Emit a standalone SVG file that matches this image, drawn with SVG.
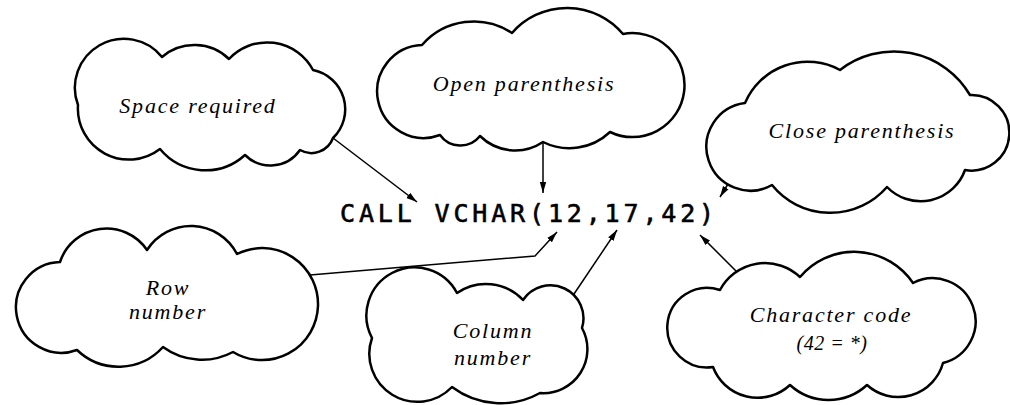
<svg xmlns="http://www.w3.org/2000/svg" width="1010" height="405" viewBox="0 0 1010 405">
<defs>
<style>
.cloud{fill:#fff;stroke:#000;stroke-width:2.5;stroke-linejoin:round}
.lbl{font-family:"Liberation Serif",serif;font-style:italic;font-size:22px;letter-spacing:1.8px;fill:#000;text-anchor:middle}
.sm{font-size:20px;letter-spacing:0.5px}
.code{font-family:"DejaVu Sans Mono",monospace;font-size:25px;letter-spacing:3.85px;fill:#000;stroke:#000;stroke-width:0.6}
.conn{fill:none;stroke:#000;stroke-width:1.5}
</style>
<marker id="ah" markerUnits="userSpaceOnUse" markerWidth="12" markerHeight="8" refX="11" refY="4" orient="auto">
<path d="M0,0.8 L11,4 L0,7.2 Z" fill="#000"/>
</marker>
</defs>
<rect width="1010" height="405" fill="#fff"/>
<g id="space-required">
<path class="cloud" d="M78,105 A49,49 0 0 1 162,57 A50,50 0 0 1 229,59 A52,52 0 0 1 313,70 A40,40 0 0 1 333,138 A23,23 0 0 1 300,150 A36,36 0 0 1 245,155 A59,59 0 0 1 160,149 A51,51 0 0 1 78,105 Z"/>
<text class="lbl" x="198" y="113">Space required</text>
</g>
<g id="open-parenthesis">
<path class="cloud" d="M422,45 A69,69 0 0 1 512,33 A73,73 0 0 1 623,34 A52,52 0 1 1 610,132 A59,59 0 0 1 543,142 A50,50 0 0 1 480,136 A25,25 0 0 1 440,135 A46.5,46.5 0 1 1 422,45 Z"/>
<text class="lbl" x="524" y="91">Open parenthesis</text>
</g>
<g id="close-parenthesis">
<path class="cloud" d="M745,103 A68,68 0 0 1 840,70 A88,88 0 0 1 970,95 A37.8,37.8 0 1 1 965,170 A47,47 0 0 1 887,187 A75,75 0 0 1 772,185 A44,44 0 1 1 745,103 Z"/>
<text class="lbl" x="862" y="138">Close parenthesis</text>
</g>
<g id="code">
<text class="code" x="340" y="222">CALL VCHAR(12,17,42)</text>
</g>
<g id="row-number">
<path class="cloud" d="M60,262 A49,49 0 0 1 147,250 A52,52 0 0 1 237,254 A56,56 0 1 1 233,352 A66,66 0 0 1 163,347 A60,60 0 0 1 77,350 A45.4,45.4 0 1 1 60,262 Z"/>
<text class="lbl" x="168" y="295">Row</text>
<text class="lbl" x="168" y="319">number</text>
</g>
<g id="column-number">
<path class="cloud" d="M372,338 A47,47 0 0 1 457,293 A51,51 0 0 1 523,300 A33,33 0 0 1 582,328 A44,44 0 0 1 540,393 A81,81 0 0 1 452,387 A48,48 0 0 1 372,338 Z"/>
<text class="lbl" x="493" y="338">Column</text>
<text class="lbl" x="493" y="365">number</text>
</g>
<g id="character-code">
<path class="cloud" d="M720,290 A51,51 0 0 1 800,277 A71,71 0 0 1 913,283 A43,43 0 1 1 943,363 A46.5,46.5 0 0 1 867,385 A57,57 0 0 1 790,385 A47.6,47.6 0 0 1 713,367 A39.8,39.8 0 1 1 720,290 Z"/>
<text class="lbl" x="831" y="322">Character code</text>
<text class="lbl sm" x="832" y="350">(42 = *)</text>
</g>
<g id="connectors">
<path class="conn" d="M333,138 L417,202" marker-end="url(#ah)"/>
<path class="conn" d="M543,142 L543,193" marker-end="url(#ah)"/>
<path class="conn" d="M728,184 L720,197" marker-end="url(#ah)"/>
<path class="conn" d="M310,275 L535,256 L557,232" marker-end="url(#ah)"/>
<path class="conn" d="M574,294 L617,230" marker-end="url(#ah)"/>
<path class="conn" d="M737,272 L700,235" marker-end="url(#ah)"/>
</g>
</svg>
